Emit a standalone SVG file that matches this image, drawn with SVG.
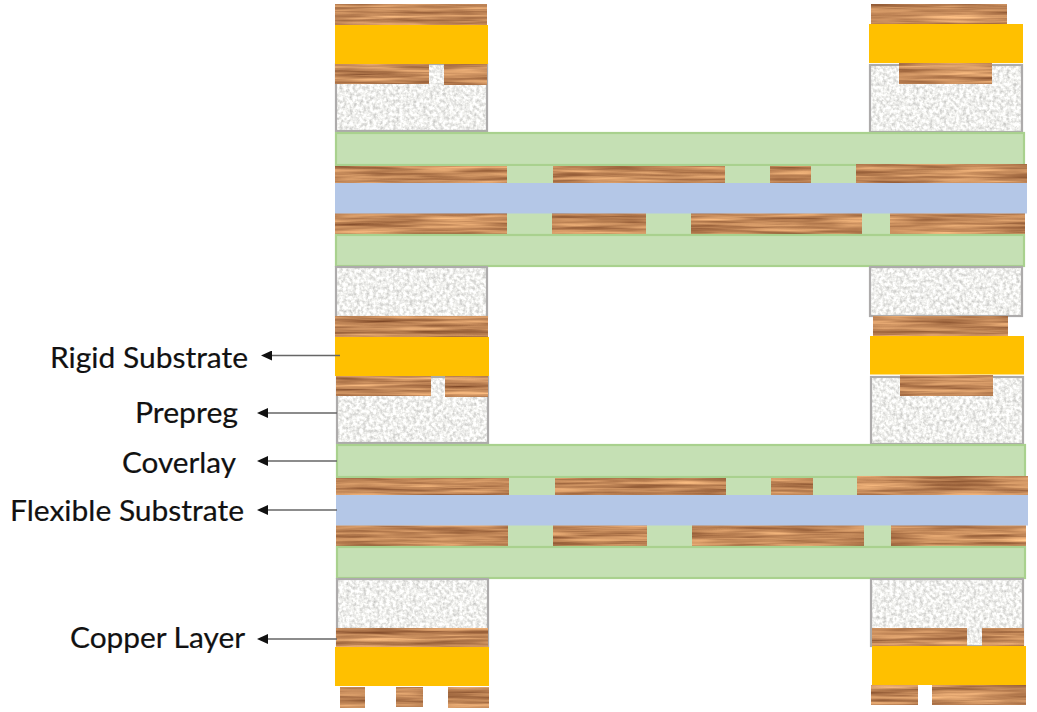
<svg xmlns="http://www.w3.org/2000/svg" width="1037" height="712" viewBox="0 0 1037 712">
<style>
.cu{filter:url(#copper);fill:#c08a58}
.pp{filter:url(#prepreg);fill:#f2f2f0}
.ppb{fill:none;stroke:#adabab;stroke-width:2.200}
.rg{fill:#ffc000}
.cv{fill:#c5e0b4;stroke:#a9d18e;stroke-width:2.200}
.gp{fill:#c5e0b4}
.fx{fill:#b4c7e7}
.lb{font-family:Lato,"Open Sans",sans-serif;font-size:29px;fill:#111;stroke:#111;stroke-width:0.2}
.ar{stroke:#666;stroke-width:1.400;fill:none;marker-end:url(#head)}
</style>
<defs>
<filter id="copper" filterUnits="objectBoundingBox" x="0" y="0" width="1" height="1" color-interpolation-filters="sRGB">
<feTurbulence type="fractalNoise" baseFrequency="0.012 0.26" numOctaves="3" seed="11"/>
<feColorMatrix type="matrix" values="0.62 0 0 0 0.45  0.58 0 0 0 0.24  0.45 0 0 0 0.12  0 0 0 0 1"/>
<feGaussianBlur stdDeviation="0.7"/>
</filter>
<filter id="prepreg" filterUnits="objectBoundingBox" x="0" y="0" width="1" height="1" color-interpolation-filters="sRGB">
<feTurbulence type="fractalNoise" baseFrequency="0.3" numOctaves="3" seed="3"/>
<feColorMatrix type="matrix" values="0.42 0 0 0 0.73  0.42 0 0 0 0.73  0.42 0 0 0 0.72  0 0 0 0 1"/>
<feGaussianBlur stdDeviation="0.5"/>
</filter>
<marker id="head" markerUnits="userSpaceOnUse" markerWidth="11" markerHeight="10" refX="1" refY="5" orient="auto"><path d="M0 0L11 5L0 10Z" fill="#111"/></marker>
</defs>
<rect width="1037" height="712" fill="#fff"/>

<g id="top-left-stack">
<rect class="pp" x="336" y="64" width="151" height="67"/><rect class="ppb" x="336" y="64" width="151" height="67"/>
<rect class="cu" x="335" y="4" width="152" height="21"/>
<rect class="cu" x="335" y="64" width="94" height="20"/>
<rect class="cu" x="444" y="64" width="43" height="21"/>
<rect class="rg" x="335" y="25" width="153" height="39"/>
</g>
<g id="top-right-stack">
<rect class="pp" x="870" y="65" width="152" height="67"/><rect class="ppb" x="870" y="65" width="152" height="67"/>
<rect class="cu" x="871" y="4" width="136" height="21"/>
<rect class="cu" x="899" y="63" width="93" height="21"/>
<rect class="rg" x="869" y="24" width="154" height="39"/>
</g>
<g id="upper-flex">
<rect class="cv" x="336" y="133" width="688" height="32"/>
<rect class="gp" x="507" y="166" width="350" height="17"/>
<rect class="cu" x="335" y="166" width="172" height="17"/>
<rect class="cu" x="553" y="166" width="172" height="17"/>
<rect class="cu" x="770" y="166" width="41" height="17"/>
<rect class="cu" x="856" y="164" width="171" height="19"/>
<rect class="gp" x="507" y="213" width="383" height="22"/>
<rect class="cu" x="335" y="213" width="172" height="21"/>
<rect class="cu" x="552" y="213" width="94" height="21"/>
<rect class="cu" x="691" y="213" width="171" height="21"/>
<rect class="cu" x="890" y="213" width="135" height="21"/>
<rect class="fx" x="335" y="183" width="692" height="30.500"/>
<rect class="cv" x="336" y="235" width="688" height="31"/>
</g>
<g id="middle-left-stack">
<rect class="pp" x="336" y="267" width="151" height="50"/><rect class="ppb" x="336" y="267" width="151" height="50"/>
<rect class="pp" x="337" y="377" width="151" height="66"/><rect class="ppb" x="337" y="377" width="151" height="66"/>
<rect class="cu" x="335" y="316" width="153" height="21"/>
<rect class="cu" x="336" y="376" width="95" height="20"/>
<rect class="cu" x="445" y="376" width="43" height="21"/>
<rect class="rg" x="335" y="337" width="154" height="39"/>
</g>
<g id="middle-right-stack">
<rect class="pp" x="870" y="267" width="152" height="49"/><rect class="ppb" x="870" y="267" width="152" height="49"/>
<rect class="pp" x="871" y="377" width="152" height="67"/><rect class="ppb" x="871" y="377" width="152" height="67"/>
<rect class="cu" x="873" y="316" width="135" height="20"/>
<rect class="cu" x="900" y="375" width="93" height="21"/>
<rect class="rg" x="870" y="336" width="154" height="38.500"/>
</g>
<g id="lower-flex">
<rect class="cv" x="337" y="445" width="688" height="32"/>
<rect class="gp" x="508" y="478" width="350" height="17"/>
<rect class="cu" x="336" y="478" width="173" height="17"/>
<rect class="cu" x="555" y="478" width="171" height="17"/>
<rect class="cu" x="771" y="478" width="42" height="17"/>
<rect class="cu" x="857" y="476" width="171" height="19"/>
<rect class="gp" x="508" y="525" width="383" height="22"/>
<rect class="cu" x="336" y="525.500" width="172" height="20.500"/>
<rect class="cu" x="553" y="525.500" width="94" height="20.500"/>
<rect class="cu" x="692" y="525.500" width="172" height="20.500"/>
<rect class="cu" x="891" y="525.500" width="135" height="20.500"/>
<rect class="fx" x="336" y="495" width="692" height="30.500"/>
<rect class="cv" x="337" y="547" width="688" height="31"/>
</g>
<g id="bottom-left-stack">
<rect class="pp" x="337" y="579" width="151" height="68"/><rect class="ppb" x="337" y="579" width="151" height="68"/>
<rect class="cu" x="336" y="628" width="152" height="19"/>
<rect class="rg" x="335" y="647" width="154" height="39"/>
<rect class="cu" x="340" y="687" width="25" height="21"/>
<rect class="cu" x="396" y="687" width="27" height="20"/>
<rect class="cu" x="448" y="687" width="41" height="21"/>
</g>
<g id="bottom-right-stack">
<rect class="pp" x="871" y="579" width="152" height="67"/><rect class="ppb" x="871" y="579" width="152" height="67"/>
<rect class="cu" x="872" y="628" width="95" height="18"/>
<rect class="cu" x="982" y="628" width="42" height="18"/>
<rect class="rg" x="872" y="646" width="154" height="39"/>
<rect class="cu" x="871" y="685" width="47" height="20"/>
<rect class="cu" x="932" y="685" width="94" height="20"/>
</g>

<g id="connectors">
<path class="ar" d="M340 355.500H271"/>
<path class="ar" d="M337 413H267"/>
<path class="ar" d="M337 461H267"/>
<path class="ar" d="M337 510H267"/>
<path class="ar" d="M337 639H267"/>
</g>
<g id="label-rigid"><text class="lb" x="50" y="368" textLength="198" lengthAdjust="spacingAndGlyphs">Rigid Substrate</text></g>
<g id="label-prepreg"><text class="lb" x="135" y="423" textLength="103" lengthAdjust="spacingAndGlyphs">Prepreg</text></g>
<g id="label-coverlay"><text class="lb" x="122" y="473" textLength="114" lengthAdjust="spacingAndGlyphs">Coverlay</text></g>
<g id="label-flexible"><text class="lb" x="10" y="521" textLength="234" lengthAdjust="spacingAndGlyphs">Flexible Substrate</text></g>
<g id="label-copper"><text class="lb" x="70" y="648" textLength="175" lengthAdjust="spacingAndGlyphs">Copper Layer</text></g>
</svg>
